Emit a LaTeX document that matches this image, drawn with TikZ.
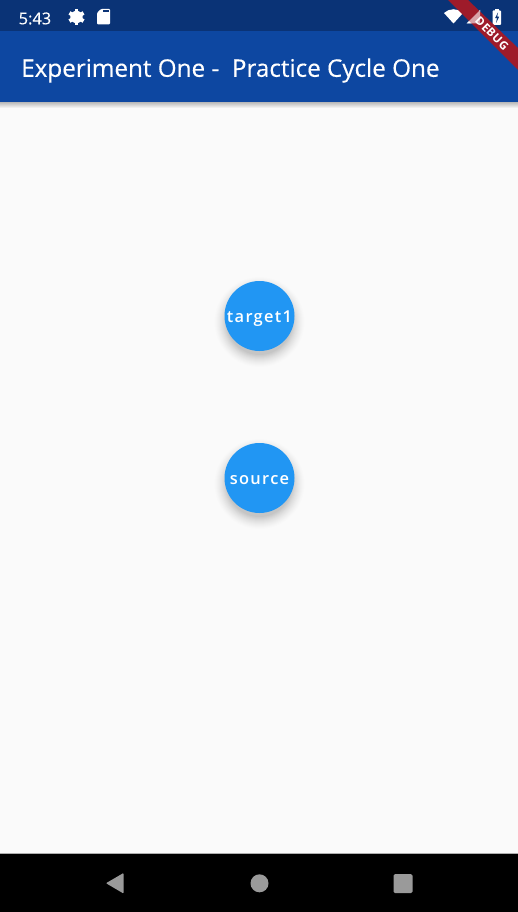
\documentclass[tikz,border=0pt]{standalone}
\usepackage{fontspec}
\setmainfont{Open Sans}
\newfontfamily\titlefont[FakeBold=.3]{Open Sans}
\newfontfamily\ribbonfont[LetterSpace=4]{Open Sans Bold}
\newfontfamily\btnfont[LetterSpace=8]{Open Sans Semibold}
\definecolor{barblue}{HTML}{0D47A1}
\definecolor{statusblue}{HTML}{0A3376}
\definecolor{btnblue}{HTML}{2196F3}
\definecolor{pagewhite}{HTML}{FAFAFA}
\definecolor{navgrey}{HTML}{9A9A9A}
\definecolor{ribbonred}{HTML}{9E1B2A}
\tikzset{
	btn/.style={circle,fill=btnblue,minimum size=70,inner sep=0pt,text=white,text height=12.6,text depth=0,font=\btnfont\fontsize{16.4}{17}\selectfont},
	icon/.style={fill=white,draw=none},
	navicon/.style={fill=navgrey,draw=none},
	ttl/.style={text=white,inner sep=0pt,anchor=west}
}
\begin{document}
\begin{tikzpicture}[x=1pt,y=-1pt]
	\useasboundingbox (0,0) rectangle (518,912);
	\fill[pagewhite] (0,0) rectangle (518,912);
	% app bar
	\shade[top color=black!28,bottom color=pagewhite] (0,102) rectangle (518,108);
	\fill[barblue] (0,31) rectangle (518,102);
	\fill[statusblue] (0,0) rectangle (518,31);
	\node[ttl,font=\titlefont\fontsize{24.25}{25}\selectfont] (title) at (21,70.5) {Experiment One -\ \ Practice Cycle One};
	\node[ttl,font=\titlefont\fontsize{16.4}{17}\selectfont] (clock) at (18.5,18.5) {5:43};
	% gear
	\foreach \a in {0,60,...,300}
		\fill[icon,rotate around={\a:(76.5,17)}] (74.7,9) rectangle (78.3,25);
	\fill[icon,even odd rule] (76.5,17) circle (6.2) (76.5,17) circle (2.9);
	% sd card
	\fill[icon,rounded corners=1pt] (101,9) -- (110,9) -- (110,24.5) -- (97,24.5) -- (97,13) -- cycle;
	\fill[statusblue] (103,10.5) rectangle (108.5,12);
	% wifi, signal, battery
	\fill[icon] (444,13) .. controls (449,8) and (458,8) .. (463,13) -- (453.5,23.5) -- cycle;
	\fill[icon] (480,10) -- (480,23.5) -- (466.5,23.5) -- cycle;
	\fill[icon] (494.5,9) rectangle (498.5,11);
	\fill[icon,rounded corners=.8pt] (492.5,10.5) rectangle (501,25);
	\fill[statusblue] (498,12.5) -- (495,18.2) -- (497,18.2) -- (496,23) -- (499.2,16.7) -- (497.2,16.7) -- cycle;
	% debug ribbon
	\fill[ribbonred] (448,0) -- (468,0) -- (518,48) -- (518,70) -- cycle;
	\fill[icon,opacity=.6] (480,10) -- (480,23.5) -- (466.5,23.5) -- cycle;
	\node[text=white,inner sep=0pt,rotate=-45,font=\ribbonfont\fontsize{11.5}{12}\selectfont] (debug) at (492,33.5) {DEBUG};
	% buttons
	\foreach \r/\o in {45/.006,44/.008,43/.01,42/.012,41/.012,40/.014,39/.014,38/.016,37/.018,36/.02,35/.022,34/.025,33/.03}{
		\fill[black,opacity=\o] (259.5,322) circle (\r);
		\fill[black,opacity=\o] (259.5,484) circle (\r);
	}
	\node[btn] (target) at (259.5,316) {target1};
	\node[btn] (source) at (259.5,478) {source};
	% nav bar
	\fill[black] (0,853) rectangle (518,912);
	\fill[navgrey!80!white] (0,853) rectangle (518,854);
	\fill[navicon,rounded corners=.8pt] (123.5,873) -- (123.5,893.5) -- (106,883.2) -- cycle;
	\fill[navicon] (259.5,883.3) circle (9);
	\fill[navicon,rounded corners=1.5pt] (393.5,874) rectangle (412.5,893);
\end{tikzpicture}
\end{document}
